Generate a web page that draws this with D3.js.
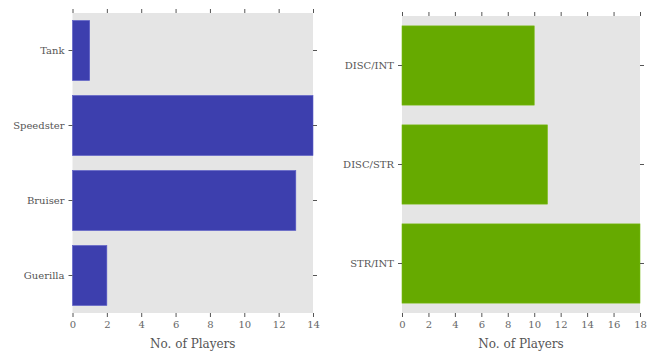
<!DOCTYPE html>
<html>
<head>
<meta charset="utf-8">
<script src="https://cdn.jsdelivr.net/npm/d3@7"></script>
<style>
  html, body { margin: 0; padding: 0; background: #fff; }
  svg text { font-family: "DejaVu Serif", serif; }
</style>
</head>
<body>
<svg id="chart" width="654" height="352"></svg>
<script>
// Player counts by class
const classCategories = ["Tank", "Speedster", "Bruiser", "Guerilla"];
const classValues = [1, 14, 13, 2];
const classTicks = [0, 2, 4, 6, 8, 10, 12, 14];

// Player counts by stat pairing
const statCategories = ["DISC/INT", "DISC/STR", "STR/INT"];
const statValues = [10, 11, 18];
const statTicks = [0, 2, 4, 6, 8, 10, 12, 14, 16, 18];

const xLabel = "No. of Players";

const svg = d3.select("#chart");

function panel(cfg) {
  const g = svg.append("g");
  const x = d3.scaleLinear().domain([0, cfg.max]).range([cfg.x0, cfg.x1]);
  const y = d3.scaleBand().domain(cfg.cats).range([cfg.y0, cfg.y1]).paddingInner(0.2).paddingOuter(0.1);

  g.append("rect")
    .attr("x", cfg.x0).attr("y", cfg.y0)
    .attr("width", cfg.x1 - cfg.x0).attr("height", cfg.y1 - cfg.y0)
    .attr("fill", "#e5e5e5");

  g.selectAll("rect.bar").data(cfg.cats).join("rect")
    .attr("class", "bar")
    .attr("x", x(0))
    .attr("y", d => y(d))
    .attr("width", (d, i) => x(cfg.vals[i]) - x(0))
    .attr("height", y.bandwidth())
    .attr("fill", cfg.color)
    .attr("stroke", cfg.edge)
    .attr("stroke-width", 0.6);

  const styleAxis = (sel, showText) => {
    sel.select(".domain").remove();
    sel.selectAll(".tick line").attr("stroke", "#555").attr("stroke-width", 1);
    sel.selectAll(".tick text")
      .attr("fill", showText ? "#666" : "none")
      .style("font-size", "10px");
  };

  const bottom = g.append("g").attr("transform", `translate(0,${cfg.y1})`)
    .call(d3.axisBottom(x).tickValues(cfg.ticks).tickSize(4).tickPadding(4));
  styleAxis(bottom, true);

  const top = g.append("g").attr("transform", `translate(0,${cfg.y0})`)
    .call(d3.axisTop(x).tickValues(cfg.ticks).tickSize(4).tickFormat(""));
  styleAxis(top, false);

  const left = g.append("g").attr("transform", `translate(${cfg.x0},0)`)
    .call(d3.axisLeft(y).tickSize(4).tickPadding(4));
  styleAxis(left, true);
  left.selectAll(".tick text").attr("fill", "#555");

  const right = g.append("g").attr("transform", `translate(${cfg.x1},0)`)
    .call(d3.axisRight(y).tickSize(4).tickFormat(""));
  styleAxis(right, false);

  g.append("text")
    .attr("x", (cfg.x0 + cfg.x1) / 2)
    .attr("y", 348)
    .attr("text-anchor", "middle")
    .attr("fill", "#555")
    .style("font-size", "12px")
    .text(xLabel);
}

panel({ cats: classCategories, vals: classValues, ticks: classTicks, max: 14,
        x0: 72.5, x1: 313, y0: 13, y1: 313, color: "#3d3fae", edge: "#5a5cc8" });
panel({ cats: statCategories, vals: statValues, ticks: statTicks, max: 18,
        x0: 402, x1: 640, y0: 16, y1: 313, color: "#66aa00", edge: "#77bb11" });
</script>
</body>
</html>
